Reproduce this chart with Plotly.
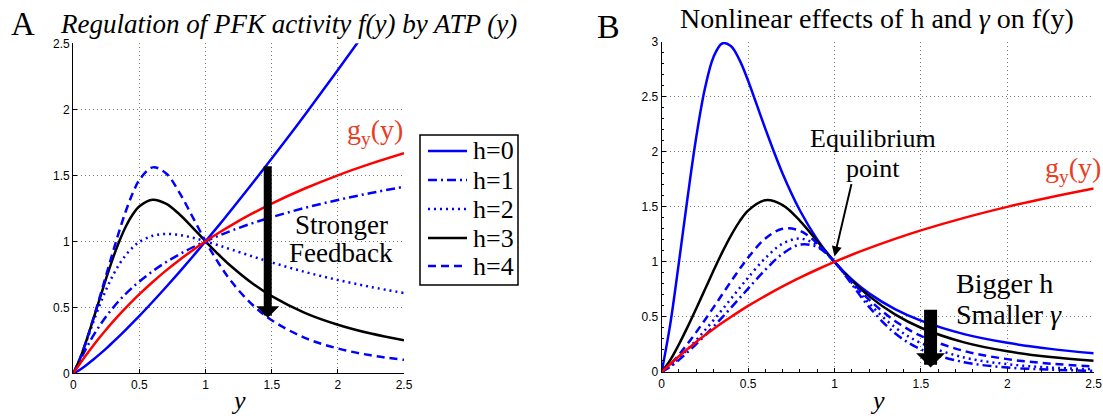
import plotly.graph_objects as go

# ---------------- data ----------------
# ATP level y (shared sampling for every curve)
atp = [0, 0.05, 0.1, 0.15, 0.2, 0.25, 0.3, 0.35, 0.4, 0.45, 0.5, 0.6, 0.7,
       0.8, 0.9, 1.0, 1.1, 1.2, 1.35, 1.5, 1.75, 2.0, 2.25, 2.5]

# Panel A: PFK activity f(y) for feedback strengths h = 0..4
f_h0 = [0, 0.027, 0.063, 0.103, 0.145, 0.189, 0.236, 0.284, 0.333, 0.384, 0.435, 0.542,
        0.652, 0.765, 0.881, 1.0, 1.121, 1.245, 1.434, 1.627, 1.957, 2.297, 2.646, 3.003]
f_h1 = [0, 0.096, 0.194, 0.283, 0.362, 0.433, 0.496, 0.554, 0.606, 0.653, 0.696, 0.774,
        0.841, 0.900, 0.953, 1.0, 1.043, 1.082, 1.136, 1.183, 1.253, 1.313, 1.366, 1.413]
f_h2 = [0, 0.109, 0.245, 0.385, 0.518, 0.638, 0.743, 0.830, 0.900, 0.954, 0.995, 1.042,
        1.056, 1.048, 1.028, 1.0, 0.969, 0.936, 0.887, 0.840, 0.768, 0.707, 0.654, 0.608]
f_h3 = [0, 0.110, 0.252, 0.407, 0.566, 0.724, 0.873, 1.006, 1.118, 1.205, 1.266, 1.315,
        1.285, 1.207, 1.106, 1.0, 0.898, 0.805, 0.684, 0.585, 0.458, 0.368, 0.301, 0.251]
f_h4 = [0, 0.110, 0.252, 0.410, 0.577, 0.749, 0.921, 1.086, 1.237, 1.366, 1.466, 1.560,
        1.516, 1.373, 1.188, 1.0, 0.832, 0.689, 0.523, 0.402, 0.269, 0.188, 0.136, 0.102]

# consumption curve g_y(y), shared by both panels
g_y = [0, 0.073, 0.143, 0.209, 0.273, 0.333, 0.391, 0.447, 0.500, 0.551, 0.600, 0.692,
       0.778, 0.857, 0.931, 1.0, 1.065, 1.125, 1.209, 1.286, 1.400, 1.500, 1.588, 1.667]

# Panel B: f(y) for several (h, gamma) pairs
fB_solid = [0, 0.439, 1.000, 1.587, 2.134, 2.574, 2.862, 2.984, 2.961, 2.835, 2.646, 2.208,
            1.801, 1.467, 1.205, 1.0, 0.840, 0.714, 0.571, 0.466, 0.344, 0.265, 0.210, 0.170]
fB_black = [0, 0.110, 0.252, 0.410, 0.577, 0.749, 0.921, 1.086, 1.237, 1.366, 1.466, 1.560,
            1.516, 1.373, 1.188, 1.0, 0.832, 0.689, 0.523, 0.402, 0.269, 0.188, 0.136, 0.102]
fB_dash = [0, 0.069, 0.158, 0.257, 0.362, 0.473, 0.587, 0.704, 0.820, 0.933, 1.039, 1.213,
           1.301, 1.282, 1.168, 1.0, 0.821, 0.657, 0.464, 0.328, 0.191, 0.117, 0.076, 0.051]
fB_dot = [0, 0.055, 0.126, 0.205, 0.290, 0.379, 0.471, 0.566, 0.663, 0.761, 0.857, 1.035,
          1.166, 1.212, 1.151, 1.0, 0.809, 0.624, 0.406, 0.263, 0.132, 0.071, 0.040, 0.025]
fB_dashdot = [0, 0.048, 0.110, 0.180, 0.254, 0.332, 0.413, 0.496, 0.582, 0.669, 0.757, 0.929,
              1.074, 1.157, 1.135, 1.0, 0.797, 0.591, 0.352, 0.206, 0.089, 0.041, 0.021, 0.011]

# ticks
ticks_a = [0, 0.5, 1, 1.5, 2, 2.5]
ticks_b_y = [0, 0.5, 1, 1.5, 2, 2.5, 3]
tick_text_a = ["0", "0.5", "1", "1.5", "2", "2.5"]
tick_text_b_y = ["0", "0.5", "1", "1.5", "2", "2.5", "3"]
legend_labels = ["h=0", "h=1", "h=2", "h=3", "h=4"]

# ---------------- styling ----------------
W, H = 1103, 416
SERIF = "Liberation Serif, Times New Roman, serif"
SANS = "Liberation Sans, Arial, sans-serif"
BLUE, RED, BLACK = "#0000ff", "#ff0000", "#000000"
LABEL_RED = "#e8401f"
DASH, DOT, DASHDOT = "8px,5px", "2px,4px", "9px,4px,2px,4px"
LW = 2.5


def px(x):
    return x / W


def py(y):
    return 1 - y / H


fig = go.Figure()

styles_a = [(BLUE, "solid"), (BLUE, DASHDOT), (BLUE, DOT), (BLACK, "solid"), (BLUE, DASH)]
for vals, (color, dash), name in zip([f_h0, f_h1, f_h2, f_h3, f_h4], styles_a, legend_labels):
    fig.add_trace(go.Scatter(
        x=atp, y=vals, mode="lines", name=name, showlegend=False,
        line=dict(color=color, dash=dash, width=LW, shape="spline", smoothing=1.0),
        xaxis="x", yaxis="y"))
fig.add_trace(go.Scatter(
    x=atp, y=g_y, mode="lines", name="g_y", showlegend=False,
    line=dict(color=RED, width=LW, shape="spline", smoothing=1.0),
    xaxis="x", yaxis="y"))

styles_b = [(BLUE, "solid"), (BLACK, "solid"), (BLUE, DASH), (BLUE, DOT), (BLUE, DASHDOT)]
for vals, (color, dash) in zip([fB_solid, fB_black, fB_dash, fB_dot, fB_dashdot], styles_b):
    fig.add_trace(go.Scatter(
        x=atp, y=vals, mode="lines", showlegend=False,
        line=dict(color=color, dash=dash, width=LW, shape="spline", smoothing=1.0),
        xaxis="x2", yaxis="y2"))
fig.add_trace(go.Scatter(
    x=atp, y=g_y, mode="lines", showlegend=False,
    line=dict(color=RED, width=LW, shape="spline", smoothing=1.0),
    xaxis="x2", yaxis="y2"))

axis_common = dict(
    showline=True, linecolor=BLACK, linewidth=1.3, mirror=False,
    ticks="inside", ticklen=4, tickcolor=BLACK, tickwidth=1,
    showgrid=True, gridcolor="#7a7a7a", gridwidth=1, griddash="1px,3px",
    zeroline=False, automargin=False, fixedrange=True,
    tickfont=dict(family=SANS, size=12, color=BLACK),
)
minor_b = dict(ticks="inside", ticklen=2.5, tickcolor=BLACK, dtick=0.1, showgrid=False)

fig.update_layout(
    width=W, height=H,
    margin=dict(l=0, r=0, t=0, b=0),
    paper_bgcolor="white", plot_bgcolor="white",
    showlegend=False,
    xaxis=dict(domain=[px(73.3), px(404)], range=[0, 2.5], anchor="y",
               tickvals=ticks_a, ticktext=tick_text_a, **axis_common),
    yaxis=dict(domain=[py(373.3), py(43.3)], range=[0, 2.5], anchor="x",
               tickvals=ticks_a, ticktext=tick_text_a, **axis_common),
    xaxis2=dict(domain=[px(661.7), px(1093.7)], range=[0, 2.5], anchor="y2",
                tickvals=ticks_a, ticktext=tick_text_a, minor=minor_b, **axis_common),
    yaxis2=dict(domain=[py(372), py(41.7)], range=[0, 3], anchor="x2",
                tickvals=ticks_b_y, ticktext=tick_text_b_y, minor=minor_b, **axis_common),
)

ann = []


def text(x, y, s, size=26, color=BLACK, xanchor="center", italic=False):
    ann.append(dict(x=px(x), y=py(y), xref="paper", yref="paper", text=s,
                    showarrow=False, xanchor=xanchor, yanchor="middle",
                    font=dict(family=SERIF, size=size, color=color,
                              style="italic" if italic else "normal")))


# panel letters and titles
text(22.5, 24, "A", size=33)
text(288, 24, "Regulation of PFK activity f(y) by ATP (y)", size=27, italic=True)
text(608.7, 27, "B", size=34)
text(877, 19, "Nonlinear effects of h and <i>γ</i> on f(y)", size=28)

# axis labels
text(238.7, 400, "y", size=26, italic=True)
text(877.7, 400, "y", size=26, italic=True)

# panel A labels
text(345, 131, "g<sub>y</sub>(y)", size=28, color=LABEL_RED, xanchor="left")
text(341.5, 224.5, "Stronger", size=27)
text(340.5, 252.5, "Feedback", size=27)

# panel B labels
text(872.6, 138.5, "Equilibrium", size=26)
text(872.6, 168.5, "point", size=26)
text(1042.6, 169, "g<sub>y</sub>(y)", size=28, color=LABEL_RED, xanchor="left")
text(954, 283.5, "Bigger h", size=28, xanchor="left")
text(954, 314.5, "Smaller <i>γ</i>", size=28, xanchor="left")

# arrows
ann.append(dict(x=1.47, y=0.42, ax=1.47, ay=1.58, xref="x", yref="y", axref="x", ayref="y",
                text="", showarrow=True, arrowhead=1, arrowwidth=8, arrowsize=0.48,
                arrowcolor=BLACK, standoff=0, startstandoff=0))
ann.append(dict(x=1.556, y=0.04, ax=1.556, ay=0.58, xref="x2", yref="y2", axref="x2", ayref="y2",
                text="", showarrow=True, arrowhead=1, arrowwidth=13, arrowsize=0.37,
                arrowcolor=BLACK, standoff=0, startstandoff=0))
ann.append(dict(x=1.0, y=1.05, ax=1.1, ay=1.72, xref="x2", yref="y2", axref="x2", ayref="y2",
                text="", showarrow=True, arrowhead=2, arrowwidth=2, arrowsize=1.0,
                arrowcolor=BLACK, standoff=0, startstandoff=0))

# legend for panel A
shapes = [dict(type="rect", xref="paper", yref="paper",
               x0=px(420), x1=px(518), y0=py(285), y1=py(135),
               line=dict(color=BLACK, width=1.5), fillcolor="white", layer="above")]
rows = [151, 180, 209, 238, 266]
for (color, dash), label, r in zip(styles_a, legend_labels, rows):
    shapes.append(dict(type="line", xref="paper", yref="paper",
                       x0=px(428), x1=px(467), y0=py(r), y1=py(r),
                       line=dict(color=color, width=LW, dash=dash), layer="above"))
    text(471, r, label, size=26, xanchor="left")

fig.update_layout(annotations=ann, shapes=shapes)

fig.write_html("out.html")
